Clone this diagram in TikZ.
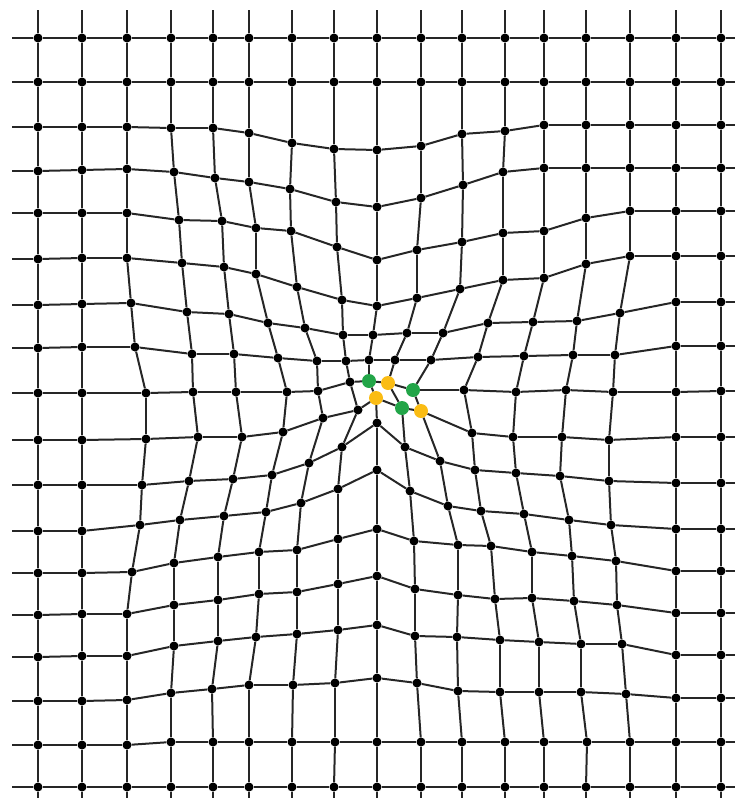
\documentclass[tikz,border=0pt]{standalone}
\usepackage{tikz}

\definecolor{ptgreen}{RGB}{34,165,72}
\definecolor{ptyellow}{RGB}{250,188,20}

\begin{document}
\begin{tikzpicture}[
      x=1pt, y=-1pt,
      mesh/.style={line width=2pt, black!85},
      dot/.style={circle, fill=black, inner sep=0pt, minimum size=9pt},
      hlg/.style={fill=ptgreen, minimum size=14pt},
      hly/.style={fill=ptyellow, minimum size=14pt},
      hl-8-8/.style={hlg}, hl-9-8/.style={hly}, hl-10-8/.style={hlg},
      hl-8-9/.style={hly}, hl-9-9/.style={hlg}, hl-10-9/.style={hly}
    ]
    \useasboundingbox (0,0) rectangle (745,798);

    % ===== mesh nodes, one list per row =====
    \foreach \row [count=\j from 0] in {
      {38/38,82/38,127/38,171/38,213/38,249/38,292/38,334/38,377/38,421/38,462/38,505/38,544/38,586/38,630/38,676/38,721/38},
      {38/82,82/82,127/82,171/82,213/82,249/82,292/82,334/82,377/82,421/82,462/82,505/82,544/82,586/82,630/82,676/82,721/82},
      {38/127,82/127,127/127,171/128,213/128,249/133,292/143,334/149,377/150,421/146,462/134,505/131,544/125,586/125,630/125,676/125,721/125},
      {38/171,82/170,127/169,174/172,215/178,249/182,290/189,336/202,377/207,421/198,463/185,503/172,544/168,586/168,630/168,676/168,721/168},
      {38/213,82/213,127/213,179/220,222/221,256/228,291/231,337/247,377/260,417/250,462/242,503/233,544/231,586/218,630/211,676/211,721/211},
      {38/259,82/258,127/258,182/263,224/267,256/274,297/287,342/300,377/306,417/298,460/289,503/280,544/278,586/264,630/256,676/256,721/256},
      {38/305,82/304,131/303,187/312,229/314,268/323,305/328,343/335,373/335,407/333,443/333,488/323,533/322,577/321,620/313,676/302,721/302},
      {38/348,82/347,135/347,192/354,234/354,278/358,317/361,346/361,369/360,395/360,431/360,478/357,524/356,573/355,615/355,676/346,721/346},
      {38/393,82/393,146/393,193/392,236/392,287/392,318/391,350/382,369/381,388/383,413/390,464/390,516/392,566/390,613/392,676/392,721/391},
      {38/440,82/440,146/439,198/437,242/437,283/432,323/418,358/410,376/398,402/408,421/411,472/433,513/437,562/437,609/440,676/437,721/437},
      {38/485,82/485,142/485,189/481,233/479,272/475,309/463,342/447,377/423,405/447,440/461,475/470,516/473,560/476,609/481,676/483,721/483},
      {38/531,82/531,140/525,180/520,224/516,266/512,301/503,338/489,377/470,410/491,448/506,481/511,524/514,569/520,611/525,676/529,721/529},
      {38/573,82/573,132/572,174/563,218/557,259/552,297/550,338/539,377/529,414/541,458/545,491/546,532/552,572/556,616/561,676/571,721/571},
      {38/615,82/614,127/614,174/605,218/600,259/594,297/592,338/584,377/576,415/589,458/595,495/599,532/598,574/601,617/605,676/613,721/613},
      {38/657,82/656,127/656,174/646,218/641,256/637,297/634,338/630,377/625,415/636,457/637,500/640,539/642,581/644,622/644,676/655,721/655},
      {38/701,82/701,127/700,171/693,212/689,249/685,293/685,335/683,377/678,417/683,458/691,500/692,539/692,581/692,626/694,676/698,721/698},
      {38/745,82/745,127/745,171/742,213/742,249/742,292/742,335/742,377/742,421/742,462/742,505/742,544/742,587/742,630/742,676/742,721/742},
      {38/787,82/787,127/787,171/787,213/787,249/787,292/787,334/787,377/787,421/787,462/787,505/787,544/787,586/787,630/787,676/787,721/787}}
    {
      \foreach \x/\y [count=\i from 0] in \row
        \node[dot, hl-\i-\j/.try] (n-\i-\j) at (\x,\y) {};
    }

    % ===== horizontal lines =====
    \foreach \j in {0,...,17} {
      \foreach \i [evaluate=\i as \k using int(\i+1)] in {0,...,15}
        \draw[mesh] (n-\i-\j) -- (n-\k-\j);
      \draw[mesh] (n-0-\j) -- ++(-26,0);
      \draw[mesh] (n-16-\j) -- ++(14,0);
    }

    % ===== vertical lines =====
    \foreach \i in {0,...,16} {
      \foreach \j [evaluate=\j as \k using int(\j+1)] in {0,...,16}
        \draw[mesh] (n-\i-\j) -- (n-\i-\k);
      \draw[mesh] (n-\i-0) -- ++(0,-28);
      \draw[mesh] (n-\i-17) -- ++(0,11);
    }
\end{tikzpicture}
\end{document}
